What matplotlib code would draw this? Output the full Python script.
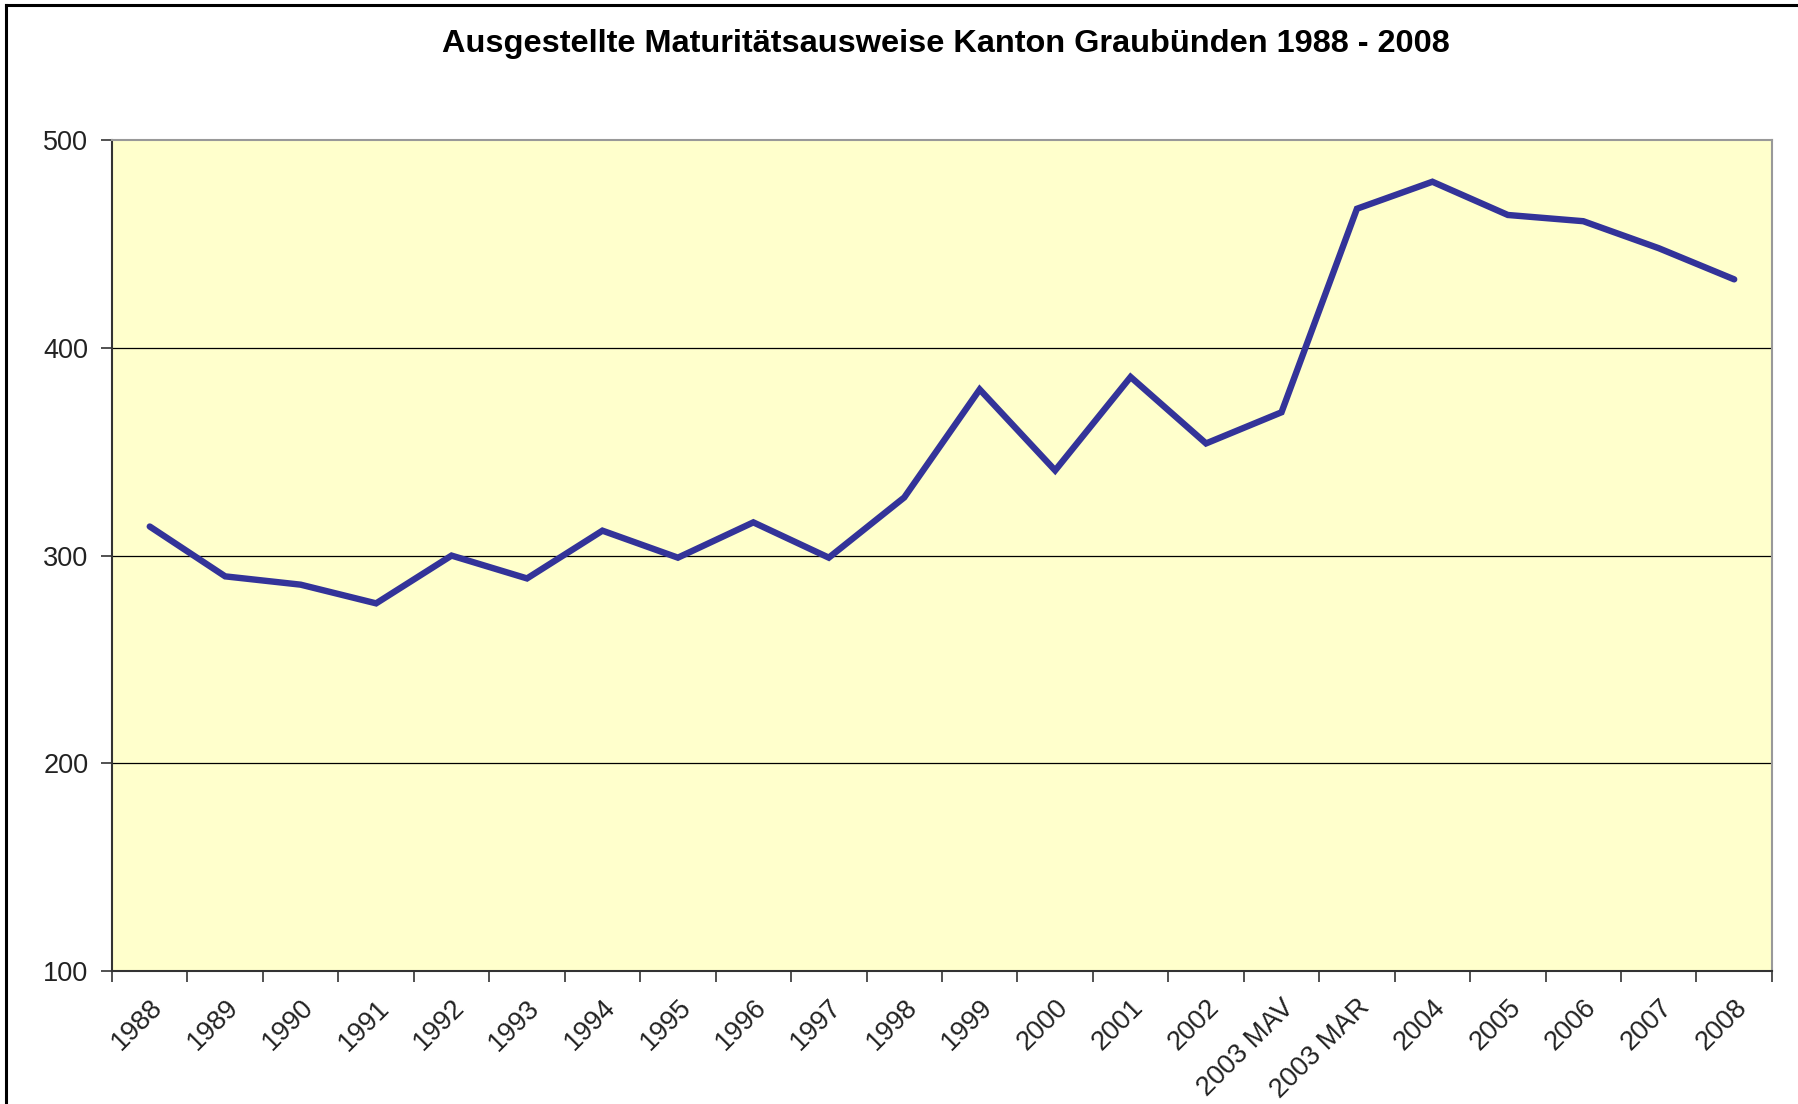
import numpy as np
import matplotlib.pyplot as plt
from matplotlib.lines import Line2D

# --------------------------
# Daten
# --------------------------
jahre = ['1988', '1989', '1990', '1991', '1992', '1993', '1994', '1995', '1996',
         '1997', '1998', '1999', '2000', '2001', '2002', '2003 MAV', '2003 MAR',
         '2004', '2005', '2006', '2007', '2008']
ausweise = [314, 290, 286, 277, 300, 289, 312, 299, 316, 299, 328, 380, 341,
            386, 354, 369, 467, 480, 464, 461, 448, 433]
y_ticks = [100, 200, 300, 400, 500]

# --------------------------
# Stil
# --------------------------
plt.rcParams['font.family'] = ['Liberation Sans', 'DejaVu Sans']
LINE_COLOR = '#333399'
BG_COLOR = '#FFFFCC'

fig = plt.figure(figsize=(17.98, 11.04), dpi=100)
ax = fig.add_axes([0.0623, 0.1205, 0.9232, 0.7525])
ax.set_facecolor(BG_COLOR)

x = np.arange(len(jahre))
ax.plot(x, ausweise, color=LINE_COLOR, linewidth=4.6, solid_capstyle='round',
        solid_joinstyle='miter', zorder=3)

ax.set_xlim(-0.5, len(jahre) - 0.5)
ax.set_ylim(100, 500)
ax.set_yticks(y_ticks)
ax.set_yticklabels([str(v) for v in y_ticks], fontsize=19.5, color='#222222')
for v in y_ticks[1:-1]:
    ax.axhline(v, color='black', linewidth=0.9, zorder=1)

ax.set_xticks(x)
ax.set_xticklabels(jahre, rotation=45, ha='right', rotation_mode='anchor',
                   fontsize=19.5, color='#222222')
ax.set_xticks(np.arange(-0.5, len(jahre), 1.0), minor=True)
ax.tick_params(axis='x', which='major', length=0, pad=17)
ax.tick_params(axis='x', which='minor', length=8, width=1.2, direction='out', color='#333333')
ax.tick_params(axis='y', length=8, width=1.2, direction='out', color='#333333', pad=9)

for s in ['left', 'bottom']:
    ax.spines[s].set_color('#333333')
    ax.spines[s].set_linewidth(1.5)
for s in ['top', 'right']:
    ax.spines[s].set_color('#999999')
    ax.spines[s].set_linewidth(1.5)

fig.text(0.526, 0.960, 'Ausgestellte Maturitätsausweise Kanton Graubünden 1988 - 2008',
         ha='center', va='center', fontsize=23.4, fontweight='bold')

# Rahmen des Diagramms (links und oben sichtbar)
fig.add_artist(Line2D([0.0036, 0.0036], [0.0, 0.9955], color='black', linewidth=2.2,
                      transform=fig.transFigure))
fig.add_artist(Line2D([0.0036, 1.0], [0.9955, 0.9955], color='black', linewidth=2.2,
                      transform=fig.transFigure))

plt.savefig('out.png', dpi=100)
plt.close()
